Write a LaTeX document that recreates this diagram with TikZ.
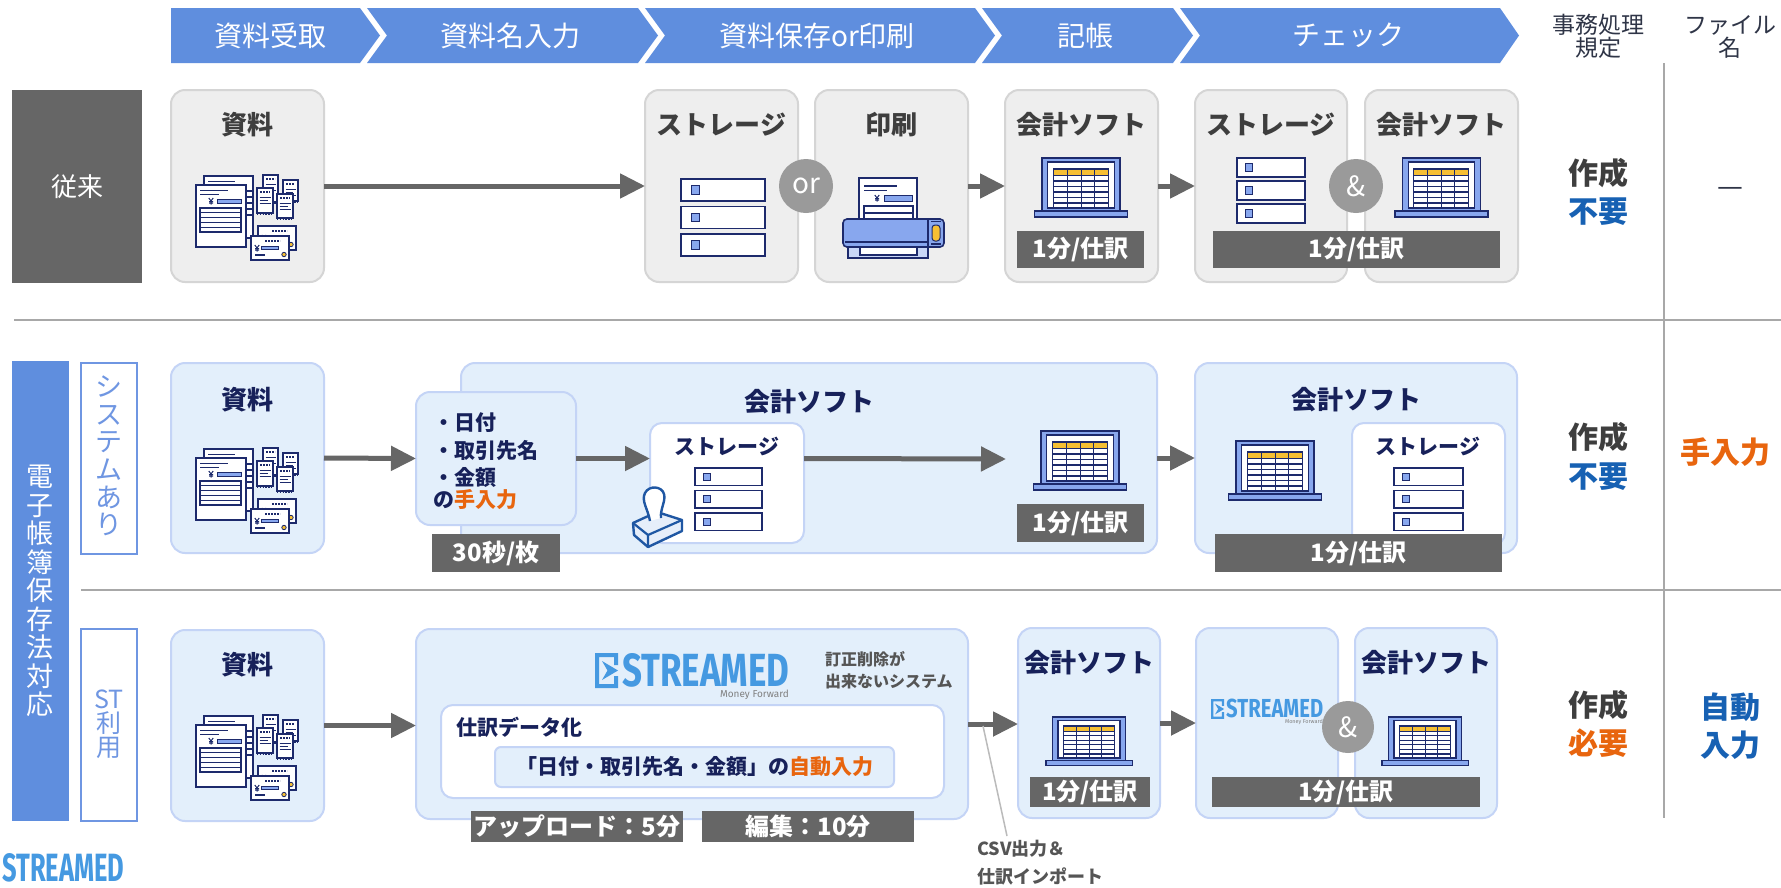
\documentclass[tikz,border=0pt]{standalone}
\usepackage{fontspec}
\setmainfont{Noto Sans CJK JP}
\newfontfamily\logofont{Fira Sans}
\usetikzlibrary{arrows.meta}

\newcommand\fsz[1]{\fontsize{#1pt}{#1pt}\selectfont}

\definecolor{hdr}{HTML}{5F8EDE}
\definecolor{labgray}{HTML}{666666}
\definecolor{boxgray}{HTML}{EEEEEE}
\definecolor{boxgrayline}{HTML}{D5D5D5}
\definecolor{boxblue}{HTML}{E3EFFB}
\definecolor{boxblueline}{HTML}{C4D4F6}
\definecolor{sideblue}{HTML}{6F96E2}
\definecolor{bardark}{HTML}{666666}
\definecolor{arrowgray}{HTML}{666666}
\definecolor{circgray}{HTML}{9A9A9A}
\definecolor{navy}{HTML}{17215A}
\definecolor{titlegray}{HTML}{3E3E3E}
\definecolor{accent}{HTML}{E8650E}
\definecolor{deepblue}{HTML}{1761B3}
\definecolor{sepgray}{HTML}{A8A8A8}
\definecolor{icnavy}{HTML}{1D2A6C}
\definecolor{icblue}{HTML}{88A7EE}
\definecolor{iclight}{HTML}{C9D7F7}
\definecolor{icyellow}{HTML}{F6BF33}
\definecolor{logoblue}{HTML}{4599E1}
\definecolor{notegray}{HTML}{555555}
\definecolor{stampblue}{HTML}{1F57A3}
\definecolor{stamplight}{HTML}{E6EEFA}
\definecolor{headdark}{HTML}{2F3547}
\definecolor{leader}{HTML}{BBBBBB}

\tikzset{
  chev/.style={fill=hdr},
  hdrtext/.style={text=white, font=\fsz{28}, inner sep=0pt},
  graybox/.style={fill=boxgray, draw=boxgrayline, line width=2pt, rounded corners=14pt},
  bluebox/.style={fill=boxblue, draw=boxblueline, line width=2pt, rounded corners=14pt},
  whitebox/.style={fill=white, draw=boxblueline, line width=2pt, rounded corners=12pt},
  fieldbox/.style={fill=boxblue, draw=boxblueline, line width=2pt, rounded corners=6pt},
  sidebox/.style={fill=white, draw=sideblue, line width=2pt},
  ttlgray/.style={text=titlegray, font=\bfseries\fsz{26}, inner sep=0pt},
  ttlnavy/.style={text=navy, font=\bfseries\fsz{26}, inner sep=0pt},
  subttl/.style={text=navy, font=\bfseries\fsz{21}, inner sep=0pt},
  inputtxt/.style={text=navy, font=\bfseries\fsz{21}, inner sep=0pt, anchor=west},
  timebar/.style={fill=bardark, text=white, font=\bfseries\fsz{24}, inner sep=0pt},
  joint/.style={circle, fill=circgray, text=white, font=\fsz{28}, minimum size=54pt, inner sep=0pt},
  flow/.style={draw=arrowgray, line width=5pt, -{Triangle[length=25pt,width=24pt]}},
  verdict/.style={font=\bfseries\fsz{30}, inner sep=0pt},
  colhead/.style={text=headdark, font=\fsz{23}, align=center, inner sep=0pt},
  note/.style={text=notegray, font=\bfseries\fsz{16}, inner sep=0pt, anchor=west},
  icf/.style={fill=white, draw=icnavy, line width=1.4pt},
  icl/.style={draw=icnavy, line width=1.2pt},
  icb/.style={fill=icblue, draw=icnavy, line width=1pt},
  sepline/.style={draw=sepgray, line width=2pt},
}

% rectangular area given by its top-left and bottom-right corners
\newcommand\areabox[6]{\node[#1, anchor=north west, inner sep=0pt, outer sep=0pt,
  minimum width={(#5-#3)*1pt}, minimum height={(#6-#4)*1pt}] (#2) at (#3,#4) {};}

% small yen sign
\newcommand\yen[2]{\draw[icl, line width=1pt] (#1-2.2,#2-3) -- (#1,#2) -- (#1+2.2,#2-3) (#1,#2) -- (#1,#2+3.5)
  (#1-2,#2+0.6) -- (#1+2,#2+0.6) (#1-2,#2+2.1) -- (#1+2,#2+2.1);}

% receipt with perforated bottom
\newcommand\rcpt[4]{%
  \filldraw[icf] (#1,#2) rectangle ++(#3,#4);
  \draw[icnavy, line width=1.2pt, dash pattern=on 1.4pt off 1.4pt] (#1,#2+#4+1.6) -- ++(#3,0);
  \draw[icnavy, line width=2.2pt, dash pattern=on 2pt off 1pt] (#1+3,#2+4) -- ++(#3-6,0);
  \draw[icl, line width=1pt] (#1+2.5,#2+9) -- ++(#3-5,0) (#1+2.5,#2+12) -- ++(#3-8,0) (#1+2.5,#2+15.5) -- ++(#3-5,0);
}

% payment card
\newcommand\card[2]{%
  \filldraw[icf] (#1,#2) rectangle ++(38,24);
  \draw[icnavy, line width=2.2pt, dash pattern=on 2pt off 1pt] (#1+14,#2+5) -- ++(15,0);
  \yen{#1+6}{#2+12}
  \filldraw[icb] (#1+10,#2+10.5) rectangle ++(17,3);
  \draw[icl] (#1+4,#2+19) -- ++(10,0);
  \filldraw[fill=icyellow, draw=icnavy, line width=0.8pt] (#1+33,#2+18.5) circle (2.2pt);
}

% three stacked storage units
\newcommand\stor[5]{%
  \foreach \k in {0,1,2}{%
    \filldraw[fill=white, draw=icnavy, line width=1.6pt] (#1,{#2+\k*#5}) rectangle ++(#3,#4);
    \filldraw[icb] ({#1+0.12*#3},{#2+\k*#5+0.3*#4}) rectangle ++({0.4*#4},{0.4*#4});
  }}

\tikzset{
  docs/.pic={
    \filldraw[icf] (8,1) rectangle (57,63);
    \draw[icl] (12,6.5) -- (39,6.5);
    \foreach \yy in {16,22,28,34,40} \draw[icl] (50,\yy) -- (57,\yy);
    \filldraw[icf] (0,10) rectangle (50,72);
    \draw[icl] (4,15.5) -- (32,15.5) (4,19.5) -- (23,19.5);
    \yen{15}{26}
    \filldraw[icb] (21,24) rectangle (45,28);
    \draw[icf] (4,33) rectangle (45,57);
    \foreach \yy in {37.8,42.6,47.4,52.2} \draw[icl] (4,\yy) -- (45,\yy);
    \rcpt{67}{0}{15}{27}
    \rcpt{87}{5}{15}{21}
    \rcpt{61}{13}{16}{25}
    \rcpt{81}{19}{16}{24}
    \card{62}{51}
    \card{55}{61}
  },
  laptop/.pic={
    \filldraw[fill=icblue, draw=icnavy, line width=1.5pt] (-39,0) rectangle (39,53);
    \filldraw[fill=white, draw=icnavy, line width=1.2pt] (-33.3,4) rectangle (33.3,50);
    \fill[icyellow] (-27.7,11) rectangle (27.3,17.7);
    \draw[icl] (-27.7,11) rectangle (27.3,50);
    \foreach \yy in {17.7,23,28.7,34,39.7,45} \draw[icl] (-27.7,\yy) -- (27.3,\yy);
    \foreach \xx in {-13.7,0.3,13.3} \draw[icl] (\xx,11) -- (\xx,50);
    \filldraw[fill=icblue, draw=icnavy, line width=1.5pt] (-46.5,53) rectangle (46.5,59);
  },
  % framed play mark of the STREAMED wordmark
  logomark/.pic={
    \fill[logoblue] (0,0) -- (23,0) -- (23,12) -- (19,12) -- (19,4) -- (4,4) -- (4,31) -- (19,31)
      -- (19,23) -- (23,23) -- (23,35) -- (0,35) -- cycle;
    \fill[logoblue] (7,8) -- (23,17.5) -- (7,27) -- (12.5,17.5) -- cycle;
  },
}

\begin{document}
\begin{tikzpicture}[x=1pt,y=-1pt]
\useasboundingbox (0,0) rectangle (1781,887);
\fill[white] (0,0) rectangle (1781,887);

% ---------- process header ----------
\fill[chev] (171,8) -- (360,8) -- (380,35.5) -- (360,63) -- (171,63) -- cycle;
\fill[chev] (367,8) -- (638,8) -- (658,35.5) -- (638,63) -- (367,63) -- (387,35.5) -- cycle;
\fill[chev] (645,8) -- (975,8) -- (995,35.5) -- (975,63) -- (645,63) -- (665,35.5) -- cycle;
\fill[chev] (982,8) -- (1173,8) -- (1193,35.5) -- (1173,63) -- (982,63) -- (1002,35.5) -- cycle;
\fill[chev] (1180,8) -- (1500,8) -- (1519,35.5) -- (1500,63) -- (1180,63) -- (1200,35.5) -- cycle;
\node[hdrtext] (h1) at (270,35.5) {資料受取};
\node[hdrtext] (h2) at (510,35.5) {資料名入力};
\node[hdrtext] (h3) at (817,35.5) {資料保存or印刷};
\node[hdrtext] (h4) at (1085,35.5) {記帳};
\node[hdrtext] (h5) at (1348,35.5) {チェック};
\node[colhead] (ch1) at (1598,36.5) {事務処理\\規定};
\node[colhead] (ch2) at (1730,36.5) {ファイル\\名};

% ---------- separators ----------
\draw[sepline] (14,320) -- (1781,320);
\draw[sepline] (81,590) -- (1781,590);
\draw[sepline] (1664,63) -- (1664,818);

% ---------- row 1 ----------
\node[fill=labgray, anchor=north west, minimum width=130pt, minimum height=193pt, inner sep=0pt,
  text=white, font=\fsz{26}] (r1lab) at (12,90) {従来};
\areabox{graybox}{r1doc}{171}{90}{324}{282}
\areabox{graybox}{r1st}{645}{90}{798}{282}
\areabox{graybox}{r1pr}{815}{90}{968}{282}
\areabox{graybox}{r1acc}{1005}{90}{1158}{282}
\areabox{graybox}{r1chk}{1195}{90}{1347}{282}
\areabox{graybox}{r1acc2}{1365}{90}{1518}{282}
\node[ttlgray] (t11) at (247.5,125) {資料};
\node[ttlgray] (t12) at (721.5,125) {ストレージ};
\node[ttlgray] (t13) at (891.5,125) {印刷};
\node[ttlgray] (t14) at (1081.5,125) {会計ソフト};
\node[ttlgray] (t15) at (1271,125) {ストレージ};
\node[ttlgray] (t16) at (1441.5,125) {会計ソフト};

\pic at (196,175) {docs};
\stor{681}{179}{84}{22}{27.5}
% printer
\filldraw[fill=iclight, draw=icnavy, line width=1.4pt] (848,238) rectangle (928,258);
\filldraw[icf] (860,246) rectangle (917,255);
\filldraw[icf] (859,178) rectangle (917,224);
\draw[icl] (864,186) -- (897,186) (864,190.5) -- (887,190.5);
\yen{877}{198}
\filldraw[icb] (884,195) rectangle (912,201);
\draw[icl] (864,206) rectangle (913,224) (864,213) -- (913,213);
\filldraw[fill=icblue, draw=icnavy, line width=1.6pt, rounded corners=4pt] (843,219) rectangle (944,247);
\draw[icl] (928,220) -- (928,246) (845,242) -- (928,242);
\filldraw[fill=icyellow, draw=icnavy, line width=1pt, rounded corners=3pt] (932,225) rectangle (940,241);
\draw[icl] (931,221.5) -- (941,221.5) (931,244) -- (941,244);

\pic at (1081,158) {laptop};
\stor{1237}{158}{68}{19}{23}
\pic at (1441.5,158) {laptop};

\node[timebar, minimum width=127pt, minimum height=37pt] (b11) at (1080.5,249.5) {1分/仕訳};
\node[timebar, minimum width=287pt, minimum height=37pt] (b12) at (1356.5,249.5) {1分/仕訳};

\draw[flow] (r1doc.east) -- (r1st.west);
\draw[flow] (r1pr.east) -- (r1acc.west);
\draw[flow] (r1acc.east) -- (r1chk.west);
\node[joint] (or1) at (806,186) {or};
\node[joint] (amp1) at (1356,186) {\&};

\node[verdict, text=titlegray] (v11) at (1598,173) {作成};
\node[verdict, text=deepblue] (v12) at (1598,212) {不要};
\node[text=headdark, font=\fsz{29}, inner sep=0pt] (v13) at (1730,192) {—};

% ---------- electronic bookkeeping label ----------
\node[fill=hdr, anchor=north west, minimum width=57pt, minimum height=460pt, inner sep=0pt] (r23lab) at (12,361) {};
\node[text=white, font=\fontsize{27pt}{28.5pt}\selectfont, align=center, inner sep=0pt] (vlab) at (40.5,591)
  {電\\子\\帳\\簿\\保\\存\\法\\対\\応};

% ---------- row 2 ----------
\areabox{sidebox}{r2lab}{81}{363}{137}{554}
\node[text=sideblue, font=\fontsize{27pt}{27.7pt}\selectfont, align=center, inner sep=0pt] (r2labt) at (109,456)
  {シ\\ス\\テ\\ム\\あ\\り};
\areabox{bluebox}{r2doc}{171}{363}{324}{553}
\areabox{bluebox}{r2big}{461}{363}{1157}{553}
\areabox{bluebox}{r2in}{416}{392}{576}{525}
\areabox{whitebox}{r2stor}{650}{423}{804}{543}
\areabox{bluebox}{r2acc}{1195}{363}{1517}{553}
\areabox{whitebox}{r2stor2}{1352}{423}{1505}{545}

\node[ttlnavy] (t21) at (247.5,400) {資料};
\node[ttlnavy] (t22) at (809,402) {会計ソフト};
\node[subttl] (t23) at (727,446) {ストレージ};
\node[ttlnavy] (t24) at (1356,400) {会計ソフト};
\node[subttl] (t25) at (1428,446) {ストレージ};

\node[inputtxt] (in1) at (433,423) {・日付};
\node[inputtxt] (in2) at (433,450) {・取引先名};
\node[inputtxt] (in3) at (433,477) {・金額};
\node[inputtxt] (in4) at (433,500) {の\textcolor{accent}{手入力}};

\pic at (196,448) {docs};
\stor{695}{468}{67}{17.5}{22.5}
\stor{1394}{468}{69}{17.5}{22.5}
\pic at (1080,431) {laptop};
\pic at (1275,441) {laptop};

% stamp
\filldraw[fill=stamplight, draw=stampblue, line width=2.4pt, line join=round]
  (633,523) -- (657,512) -- (682,520) -- (682,531) -- (648,547) -- (634,535) -- cycle;
\draw[stampblue, line width=2.2pt, line join=round] (633,523) -- (648,535) -- (682,520) (648,535) -- (648,547);
\filldraw[fill=white, draw=stampblue, line width=2.4pt, line join=round]
  (650,521) .. controls (648,509) and (641,501) .. (645,493) .. controls (649,485) and (662,486) .. (664,494)
  .. controls (666,501) and (660,509) .. (661,518);

\node[timebar, minimum width=128pt, minimum height=38pt] (b21) at (496,553) {30秒/枚};
\node[timebar, minimum width=127pt, minimum height=38pt] (b22) at (1080.5,523) {1分/仕訳};
\node[timebar, minimum width=287pt, minimum height=38pt] (b23) at (1358.5,553) {1分/仕訳};

\coordinate (r2lapin) at (1006,459);
\draw[flow] (r2doc.east) -- (r2in.west);
\draw[flow] (r2in.east) -- (r2in.east -| r2stor.west);
\draw[flow] (r2in.east -| r2stor.east) -- (r2lapin);
\draw[flow] (r2big.east) -- (r2acc.west);

\node[verdict, text=titlegray] (v21) at (1598,437) {作成};
\node[verdict, text=deepblue] (v22) at (1598,477) {不要};
\node[verdict, text=accent] (v23) at (1725,452) {手入力};

% ---------- row 3 ----------
\areabox{sidebox}{r3lab}{81}{629}{137}{821}
\node[text=sideblue, font=\fontsize{25pt}{24pt}\selectfont, align=center, inner sep=0pt] (r3labt) at (109,724)
  {ST\\利\\用};
\areabox{bluebox}{r3doc}{171}{630}{324}{821}
\areabox{bluebox}{r3st}{416}{629}{968}{819}
\areabox{whitebox}{r3inner}{441}{705}{944}{798}
\areabox{fieldbox}{r3field}{495}{747}{894}{787}
\areabox{bluebox}{r3acc}{1018}{628}{1160}{818}
\areabox{bluebox}{r3sm}{1196}{628}{1338}{818}
\areabox{bluebox}{r3acc2}{1355}{628}{1497}{818}

\node[ttlnavy] (t31) at (247.5,665) {資料};
\node[ttlnavy] (t32) at (1089,663) {会計ソフト};
\node[ttlnavy] (t33) at (1426,663) {会計ソフト};
\pic at (196,715) {docs};

% STREAMED marks
\pic at (595,653) {logomark};
\node[anchor=north west, inner sep=0pt, text=logoblue] (lg1) at (622,653)
  {\resizebox{167pt}{33pt}{\logofont\bfseries STREAMED}};
\node[anchor=north east, inner sep=0pt, text=gray, font=\logofont\fsz{10}] (lg1mf) at (789,690) {Money Forward};
\pic[scale=0.571] at (1211,699) {logomark};
\node[anchor=north west, inner sep=0pt, text=logoblue] (lg2) at (1226,699)
  {\resizebox{97pt}{18.5pt}{\logofont\bfseries STREAMED}};
\node[anchor=north east, inner sep=0pt, text=gray, font=\logofont\fsz{5.5}] (lg2mf) at (1323,719.5) {Money Forward};

\node[note] (n1) at (825,659) {訂正削除が};
\node[note] (n2) at (825,681) {出来ないシステム};
\node[inputtxt] (t34) at (456,727) {仕訳データ化};
\node[text=navy, font=\bfseries\fsz{21}, inner sep=0pt] (t35) at (694.5,767)
  {「日付・取引先名・金額」の\textcolor{accent}{自動入力}};

\pic[xscale=0.93, yscale=0.82] at (1089,717) {laptop};
\pic[xscale=0.93, yscale=0.82] at (1425,717) {laptop};

\node[timebar, minimum width=212pt, minimum height=31pt] (b31) at (577,826.5) {アップロード：5分};
\node[timebar, minimum width=212pt, minimum height=31pt] (b32) at (808,826.5) {編集：10分};
\node[timebar, minimum width=120pt, minimum height=30pt] (b33) at (1090,792) {1分/仕訳};
\node[timebar, minimum width=268pt, minimum height=30pt] (b34) at (1346,792) {1分/仕訳};

\draw[flow] (r3doc.east) -- (r3doc.east -| r3st.west);
\draw[flow] (r3st.east) -- (r3st.east -| r3acc.west);
\draw[flow] (r3acc.east) -- (r3sm.west);
\node[joint, minimum size=52pt] (amp2) at (1348,727) {\&};

\coordinate (csvtop) at (983,726);
\coordinate (csvend) at (1007,836);
\draw[leader, line width=1.5pt] (csvtop) -- (csvend);
\node[note, font=\bfseries\fsz{18}] (csv1) at (977,849) {CSV出力＆};
\node[note, font=\bfseries\fsz{18}] (csv2) at (977,876) {仕訳インポート};

\node[verdict, text=titlegray] (v31) at (1598,705) {作成};
\node[verdict, text=accent] (v32) at (1598,743) {必要};
\node[verdict, text=deepblue] (v33) at (1730,707) {自動};
\node[verdict, text=deepblue] (v34) at (1730,745) {入力};

% corner wordmark
\node[anchor=north west, inner sep=0pt, text=logoblue] (lg3) at (2,853)
  {\resizebox{122pt}{28pt}{\logofont\bfseries STREAMED}};
\end{tikzpicture}
\end{document}
